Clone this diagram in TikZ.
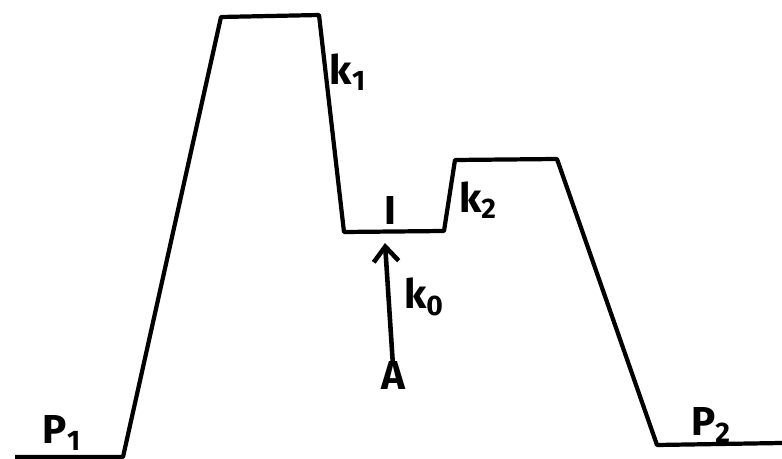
\documentclass[tikz,border=0pt]{standalone}
\usepackage{fontspec}
\setsansfont{Fira Sans}
\usetikzlibrary{positioning, arrows.meta}
\tikzset{
  profile/.style={line width=2.4pt, line join=round},
  lbl/.style={font=\sffamily\bfseries\fontsize{23}{26}\selectfont, inner sep=1pt},
}
\begin{document}
\begin{tikzpicture}[x=0.02cm, y=-0.02cm]
          \useasboundingbox (0,0) rectangle (782,459);
          % energy profile
          \draw[profile] (15,457) -- (123,457) -- (221,17) -- (319,15) -- (344,232)
            -- (444,231) -- (455,160) -- (557,159) -- (657,445) -- (782,443);
          \node[lbl] (p1) at (62,433) {P\textsubscript{1}};
          \node[lbl] (k1) at (348,72) {k\textsubscript{1}};
          \node[lbl] (int) at (390,211) {I};
          \node[lbl] (k2) at (478,200) {k\textsubscript{2}};
          \node[lbl] (p2) at (711,425) {P\textsubscript{2}};
          \node[lbl] (a) at (393,375) {A};
          \node[lbl] (k0) at (424,297) {k\textsubscript{0}};
          \coordinate (top) at (385,243);
          \draw[line width=2.6pt, -{Straight Barb[length=3mm, width=5mm, line width=2.6pt]}] ([yshift=-4pt]a.north) -- (top);
        \end{tikzpicture}
\end{document}
